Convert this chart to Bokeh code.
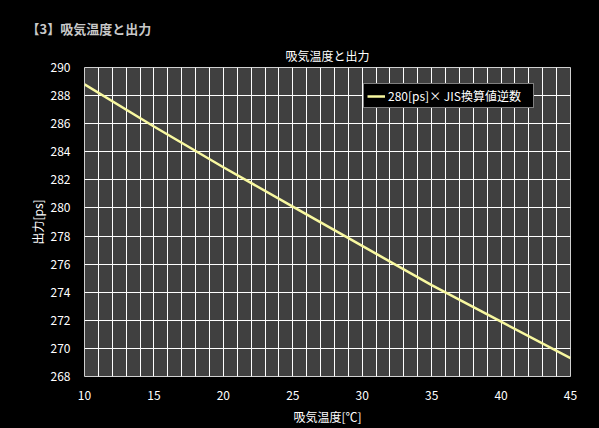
from bokeh.plotting import figure
from bokeh.models import FixedTicker, Title, Legend, LegendItem, Range1d
from bokeh.embed import file_html
from bokeh.resources import INLINE
from bokeh.core.templates import get_env

# ---- data ----
temps = [10, 15, 20, 25, 30, 35, 40, 45]
power = [288.8, 285.8, 282.9, 280.1, 277.3, 274.5, 271.9, 269.3]
series_name = "280[ps]× JIS換算値逆数"
x_tick_labels = [10, 15, 20, 25, 30, 35, 40, 45]
y_tick_labels = [268, 270, 272, 274, 276, 278, 280, 282, 284, 286, 288, 290]
x_grid_ticks = list(range(10, 46))
header_text = "【3】吸気温度と出力"
chart_title = "吸気温度と出力"
x_label = "吸気温度[℃]"
y_label = "出力[ps]"

FONT = "Noto Sans CJK JP"

p = figure(width=599, height=428, output_backend="svg", toolbar_location=None,
           x_range=Range1d(10, 45), y_range=Range1d(268, 290),
           min_border_left=84, min_border_right=29, min_border_top=67, min_border_bottom=52)

p.background_fill_color = "#404040"
p.border_fill_color = "#000000"
p.outline_line_color = "#d0d0d0"
p.outline_line_width = 1

# titles: p.title is the outer header, the added one is the chart title
p.title.text = header_text
p.title.align = "left"
p.title.offset = -58
p.title.text_color = "#c8c8c8"
p.title.text_font = FONT
p.title.text_font_size = "13px"
p.title.text_font_style = "bold"
p.title.standoff = 7
p.add_layout(Title(text=chart_title, align="center", offset=-5, text_font=FONT,
                   text_font_size="12px", text_font_style="normal", text_color="#ffffff",
                   standoff=7), "above")

# axes
for ax in (p.xaxis[0], p.yaxis[0]):
    ax.axis_line_color = None
    ax.major_tick_line_color = None
    ax.minor_tick_line_color = None
    ax.major_label_text_color = "#ffffff"
    ax.major_label_text_font = FONT
    ax.major_label_text_font_size = "12px"
    ax.axis_label_text_color = "#ffffff"
    ax.axis_label_text_font = FONT
    ax.axis_label_text_font_size = "12px"
    ax.axis_label_text_font_style = "normal"

p.xaxis.ticker = FixedTicker(ticks=x_tick_labels)
p.yaxis.ticker = FixedTicker(ticks=y_tick_labels)
p.xaxis.axis_label = x_label
p.yaxis.axis_label = y_label
p.xaxis.major_label_standoff = 8
p.yaxis.major_label_standoff = 8
p.xaxis.axis_label_standoff = 5
p.yaxis.axis_label_standoff = 2

# grid
p.xgrid.ticker = FixedTicker(ticks=x_grid_ticks)
p.ygrid.ticker = FixedTicker(ticks=y_tick_labels)
p.xgrid.grid_line_color = "#ffffff"
p.ygrid.grid_line_color = "#ffffff"
p.xgrid.grid_line_width = 1
p.ygrid.grid_line_width = 1

r = p.line(temps, power, line_color="#f8f8a0", line_width=2.5)

legend = Legend(items=[LegendItem(label=series_name, renderers=[r])],
                location=(279, 268),
                background_fill_color="#000000", background_fill_alpha=1,
                border_line_color="#ffffff", border_line_width=1,
                label_text_color="#ffffff", label_text_font=FONT,
                label_text_font_size="12px",
                padding=3, spacing=0, margin=0, label_standoff=3,
                glyph_width=18, glyph_height=12, label_height=12, label_width=142)
p.add_layout(legend, "center")

tmpl = get_env().from_string(
    '{% extends "file.html" %}'
    '{% block preamble %}<style>html,body{background:#000000;}</style>{% endblock %}'
)

open("out.html", "w").write(file_html(p, INLINE, template=tmpl))
